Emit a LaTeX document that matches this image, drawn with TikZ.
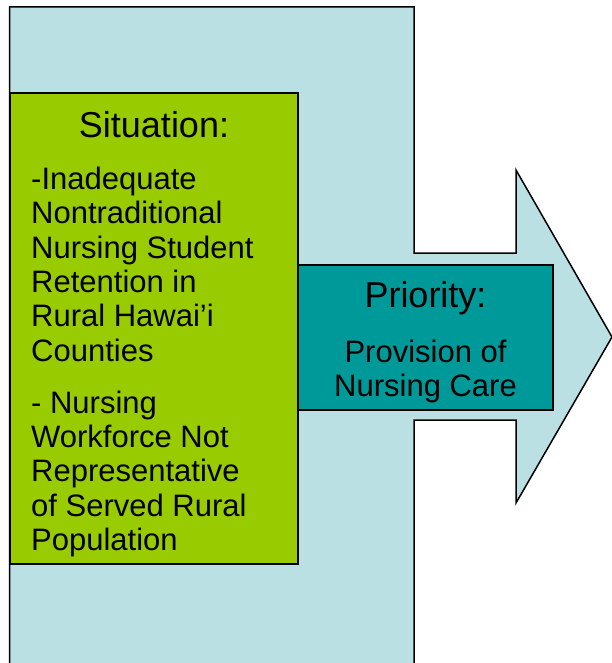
\documentclass[tikz,border=0pt]{standalone}
\usepackage{fontspec}
\setmainfont{Liberation Sans}
\usepackage{tikz}
\usetikzlibrary{positioning}
\definecolor{arrowblue}{RGB}{187,224,227}
\definecolor{sitgreen}{RGB}{153,204,0}
\definecolor{prioteal}{RGB}{0,153,153}
\newcommand\headfont{\fontsize{36}{40}\selectfont}
\newcommand\bodyfont{\fontsize{31}{34.3}\selectfont}
\tikzset{
  sitbox/.style={draw=black, line width=1.2pt, fill=sitgreen, minimum width=288pt, minimum height=471pt, inner sep=0pt},
  priobox/.style={draw=black, line width=1.2pt, fill=prioteal, minimum width=255pt, minimum height=145pt, inner sep=0pt},
  headtext/.style={font=\headfont, inner sep=0pt, anchor=base},
  bodytext/.style={font=\bodyfont, inner sep=0pt}
}

\begin{document}
\begin{tikzpicture}[x=1pt,y=-1pt]
	%% page frame
	\useasboundingbox (0,0) rectangle (612,663);
	\clip (0,0) rectangle (612,663);
	
	\def\shaftTop{253} % upper edge of the shaft
	\def\shaftBot{420} % lower edge of the shaft
	\def\headX{516} % start of the arrow head
	
	% the big block arrow
	\draw[fill=arrowblue, line width=1.5pt, line join=miter]
		(9.5,7) -- (414,7) -- (414,\shaftTop) -- (\headX,\shaftTop) -- (\headX,170)
		-- (612,337) -- (\headX,503) -- (\headX,\shaftBot) -- (414,\shaftBot)
		-- (414,680) -- (9.5,680) -- cycle;
	
	% boxes
	\node[sitbox] (situation) at (154,328.5) {};
	\node[priobox] (priority) at (425.5,337.5) {};
	
	% texts (base = last line of a block)
	\node[headtext] (sithead) at (154,137.5) {Situation:};
	\node[bodytext, align=left, anchor=base west] (sitbody) at (31,550.5)
		{-Inadequate\\Nontraditional\\Nursing Student\\Retention in\\Rural Hawai’i\\Counties\\[18pt]- Nursing\\Workforce Not\\Representative\\of Served Rural\\Population};
	
	\node[headtext] (priohead) at (425.5,307.5) {Priority:};
	\node[bodytext, align=center, anchor=base] (priobody) at (425.5,396.5)
		{Provision of\\Nursing Care};
\end{tikzpicture}
\end{document}
